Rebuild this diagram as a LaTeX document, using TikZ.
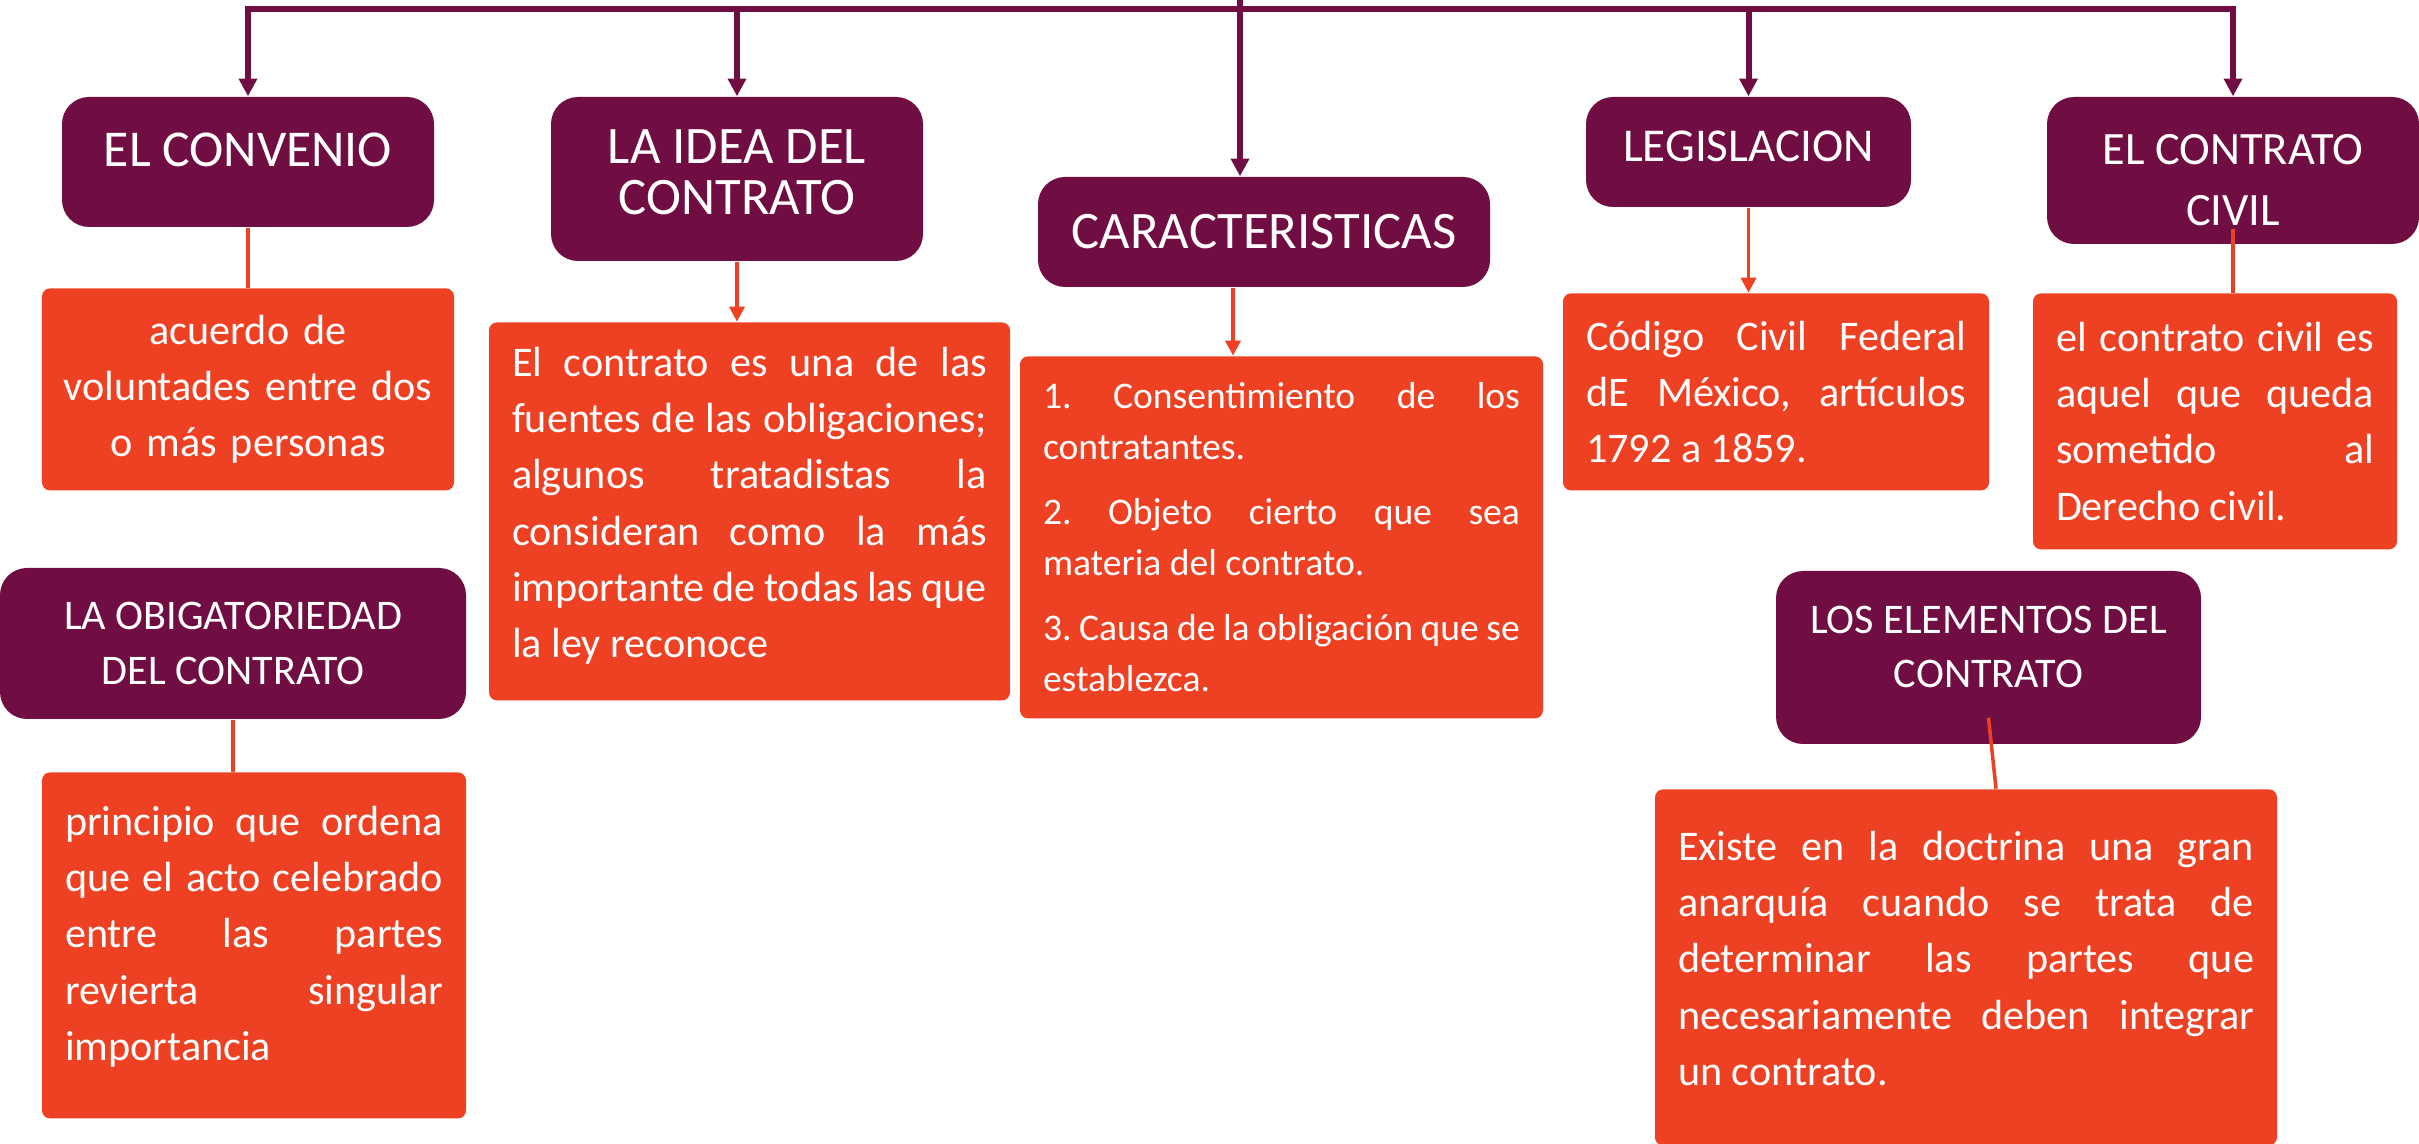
\documentclass[tikz,border=0pt]{standalone}
\usepackage{fontspec}
\setmainfont{Carlito}
\usetikzlibrary{positioning, arrows.meta}
\definecolor{vino}{RGB}{112,14,68}
\definecolor{naranja}{RGB}{238,65,36}
\tolerance=10000
\hbadness=10000
\hyphenpenalty=10000
\frenchspacing

\begin{document}
\begin{tikzpicture}[>={Triangle[length=5pt, width=5pt]},
    head/.style = {fill=vino, text=white, rounded corners=0.27cm, align=center, inner sep=0pt, font=\fontsize{12}{15.5}\selectfont},
    note/.style = {fill=naranja, text=white, rounded corners=0.08cm, inner xsep=0.23cm, inner ysep=0pt, align=justify, font=\fontsize{12}{16}\selectfont},
    branch/.style = {draw=vino, line width=1.7pt},
    tie/.style = {draw=naranja, line width=1pt, >={Triangle[length=4.3pt, width=4.3pt]}}]

    \useasboundingbox (0,0) rectangle (24.19,-11.44);

    \node[head, minimum width=3.72cm, minimum height=1.30cm, font=\fontsize{14.7}{17}\selectfont, text height=0.333cm, text depth=0.24cm] (convenio) at (2.48,-1.62) {EL CONVENIO};
    \node[note, below = 0.60cm of convenio, inner xsep=0.1cm, text width=3.92cm, minimum height=2.02cm, align=center] (convenio-def) {acuerdo de\\ voluntades entre dos\\ o más personas};

    \node[head, minimum width=3.72cm, minimum height=1.64cm, font=\fontsize{15}{14.5}\selectfont, text height=0.71cm, text depth=0cm] (idea) at (7.37,-1.79) {LA IDEA DEL\\ CONTRATO};
    \node[note, below = 0.60cm of idea, xshift=0.125cm, text width=4.75cm, minimum height=3.78cm, text depth=85.1pt] (idea-def) {El contrato es una de las\linebreak fuentes de las obligaciones;\linebreak algunos tratadistas la\linebreak consideran como la más\linebreak importante de todas las que\linebreak la ley reconoce};

    \node[head, minimum width=4.52cm, minimum height=1.10cm, font=\fontsize{15}{18}\selectfont] (caracteristicas) at (12.64,-2.32) {CARACTERISTICAS};
    \node[note, below = 0.68cm of caracteristicas, xshift=0.175cm, text width=4.77cm, minimum height=3.62cm, font=\fontsize{10.7}{14.5}\selectfont] (caracteristicas-def) {1. Consentimiento de los\linebreak contratantes.\\[4pt]
        2. Objeto cierto que sea\linebreak materia del contrato.\\[4pt]
        3. Causa de la obligación que se\linebreak establezca.};

    \node[head, minimum width=3.25cm, minimum height=1.10cm, font=\fontsize{13.4}{16}\selectfont, text height=0.303cm, text depth=0.11cm] (legislacion) at (17.485,-1.52) {LEGISLACION};
    \node[note, below = 0.85cm of legislacion, xshift=0.275cm, text width=3.80cm, minimum height=1.97cm] (legislacion-def) {Código Civil Federal\linebreak dE México, artículos\linebreak 1792 a 1859.};

    \node[head, minimum width=3.72cm, minimum height=1.47cm, font=\fontsize{13.2}{17.4}\selectfont, text height=1.11cm, text depth=0cm] (civil) at (22.33,-1.705) {EL CONTRATO\\ CIVIL};
    \node[note, below = 0.48cm of civil, xshift=-0.18cm, text width=3.18cm, minimum height=2.56cm] (civil-def) {el contrato civil es\linebreak aquel que queda\linebreak sometido al\linebreak Derecho civil.};

    \node[head, minimum width=4.66cm, minimum height=1.51cm] (obligatoriedad) at (2.33,-6.435) {LA OBIGATORIEDAD\\ DEL CONTRATO};
    \node[note, below = 0.52cm of obligatoriedad, xshift=0.21cm, text width=3.78cm, minimum height=3.46cm, text depth=70.9pt] (obligatoriedad-def) {principio que ordena\linebreak que el acto celebrado\linebreak entre las partes\linebreak revierta singular\linebreak importancia};

    \node[head, minimum width=4.25cm, minimum height=1.73cm, text height=0.607cm, text depth=0cm] (elementos) at (19.885,-6.575) {LOS ELEMENTOS DEL\\ CONTRATO};
    \node[note, below = 0.44cm of elementos, xshift=-0.225cm, text width=5.76cm, minimum height=3.56cm, text depth=69.2pt] (elementos-def) {Existe en la doctrina una gran\linebreak anarquía cuando se trata de\linebreak determinar las partes que\linebreak necesariamente deben integrar\linebreak un contrato.};

    \coordinate (root) at (12.40,0);
    \coordinate (hub) at (12.40,-0.09);
    \draw[branch, ->] (root) -- (root |- caracteristicas.north);
    \draw[branch, ->] (hub) -| (convenio.north);
    \draw[branch, ->] (hub) -| (idea.north);
    \draw[branch, ->] (hub) -| (legislacion.north);
    \draw[branch, ->] (hub) -| (civil.north);

    \draw[tie] (convenio.south) -- (convenio-def.north);
    \draw[tie, ->] (idea.south) -- (idea.south |- idea-def.north);
    \draw[tie, ->] ([xshift=-0.31cm]caracteristicas.south) -- ([xshift=-0.31cm]caracteristicas.south |- caracteristicas-def.north);
    \draw[tie, ->] (legislacion.south) -- (legislacion.south |- legislacion-def.north);
    \draw[tie] ([yshift=0.16cm]civil.south) -- (civil.south |- civil-def.north);
    \draw[tie] (obligatoriedad.south) -- (obligatoriedad.south |- obligatoriedad-def.north);
    \draw[tie] ([yshift=0.27cm]elementos.south) -- ([xshift=0.3cm]elementos-def.north);

\end{tikzpicture}
\end{document}
